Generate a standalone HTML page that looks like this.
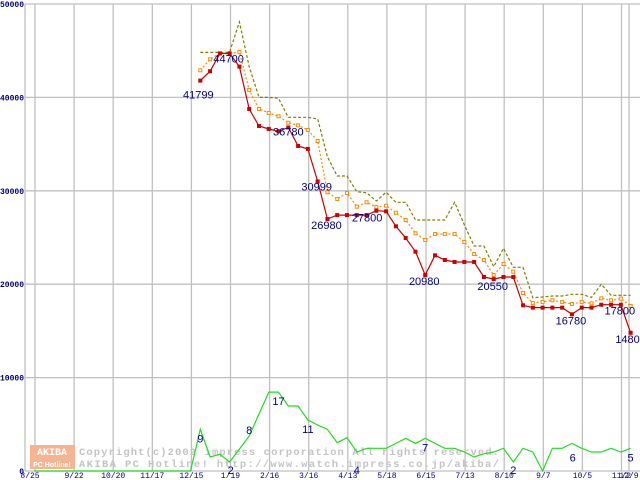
<!DOCTYPE html>
<html><head><meta charset="utf-8"><style>
html,body{margin:0;padding:0;background:#fff;}
svg{display:block;font-family:"Liberation Sans",sans-serif;}
</style></head><body>
<svg id="chart" width="640" height="480" viewBox="0 0 640 480" xmlns="http://www.w3.org/2000/svg">
<g id="grid"></g>
<g id="axes"></g>
<g id="watermark">
  <rect x="30" y="445" width="45" height="24" fill="#f6b592"/>
  <text x="52" y="455" font-size="10" font-weight="bold" fill="#fff" text-anchor="middle" font-family="Liberation Mono,monospace">AKIBA</text>
  <text x="52" y="467" font-size="7" font-weight="bold" fill="#fff" text-anchor="middle">PC Hotline!</text>
  <text x="79" y="455" font-size="10.5" font-weight="bold" fill="#c4c4c4" font-family="Liberation Mono,monospace" textLength="420">Copyright(c)2002 impress corporation All rights reserved.</text>
  <text x="79" y="467" font-size="10.5" font-weight="bold" fill="#c4c4c4" font-family="Liberation Mono,monospace" textLength="420">AKIBA PC Hotline!  http://www.watch.impress.co.jp/akiba/</text>
</g>
<g id="series"></g>
<g id="labels"></g>
</svg>
<script>
const xTickLabels = ["8/25","9/22","10/20","11/17","12/15","1/19","2/16","3/16","4/13","5/18","6/15","7/13","8/10","9/7","10/5","11/2","12/9"];
const yTicks = [0,10000,20000,30000,40000,50000];
const minPrice = [41799,42800,44700,44700,43300,38760,36940,36620,36370,36780,34800,34480,30999,26980,27400,27400,27400,27400,27870,27800,26200,24950,23480,20980,23090,22590,22380,22380,22380,20770,20550,20770,20770,17740,17490,17490,17490,17490,16780,17490,17490,17800,17800,17800,14800];
const avgPrice = [42900,44080,44720,44720,44860,40790,38760,38330,37980,37290,37010,36510,35330,29840,29120,29760,28300,28770,28270,28400,27650,26870,25450,24730,25370,25370,25370,24520,23230,22590,20980,22160,21340,19060,17990,18100,18280,18090,17880,18090,17950,18490,18280,18460,17670];
const maxPrice = [44820,44820,44820,44820,48070,43300,40000,40000,39900,37870,37870,37870,37690,33650,31580,31580,29900,29790,28910,29840,28770,28770,26870,26870,26870,26870,28770,26340,24090,24090,21870,23840,21810,21810,18550,18630,18740,18740,18920,18920,18590,19990,18810,18810,18810];
const shopCount = [0,0,0,0,0,0,0,0,0,0,0,0,0,0,0,0,0,4460,1500,1790,960,2350,3750,6100,8450,8450,6960,6960,5460,4920,4460,3030,3560,2030,2430,2430,2430,2960,3500,2960,3500,2960,2430,2430,2030,1500,1850,2030,2430,960,2430,2030,0,2430,2430,2960,2430,2030,2030,2430,2030,2430];
const priceLabels = [[0,"41799",-2,18],[3,"44700",-1,9],[9,"36780",0,8],[12,"30999",-1,9],[13,"26980",-1,10],[19,"27800",-19,10],[23,"20980",-1,10],[30,"20550",-1,11],[38,"16780",-1,10],[43,"17800",-1,10],[44,"14800",0,10]];
const countLabels = [[17,"9",0,7],[20,"2",1,6],[22,"8",0,-8],[25,"17",0,7],[28,"11",0,7],[33,"4",0,16],[40,"7",0,7],[49,"2",0,6],[56,"6",-9,7],[61,"5",0,7]];

const NS="http://www.w3.org/2000/svg";
function mk(t,a,p){const e=document.createElementNS(NS,t);for(const k in a)e.setAttribute(k,a[k]);p.appendChild(e);return e;}
const X0=200.3, WK=9.78;
function xAt(i){return X0+WK*i;}
function yAt(v){return 471-v*0.00934;}
const grid=document.getElementById('grid'),axes=document.getElementById('axes'),series=document.getElementById('series'),labels=document.getElementById('labels');

yTicks.forEach(v=>{
  const l=mk('line',{x1:25,x2:640,y1:yAt(v),y2:yAt(v),stroke:'#c0c0c0','stroke-width':1.3},grid);
  
  
  const t=mk('text',{x:24,y:yAt(v)+3,'font-size':8,'font-weight':'bold',fill:'#000080','text-anchor':'end','font-family':'Liberation Mono,monospace'},axes);
  t.textContent=String(v);
  
  
});
mk('line',{x1:25,x2:25,y1:4,y2:471,stroke:'#c0c0c0','stroke-width':1.3},grid);
xTickLabels.forEach((s,k)=>{
  const x = k<16 ? 35+39.1*k : 629;
  const l=mk('line',{x1:x,x2:x,y1:4,y2:471,stroke:'#c0c0c0','stroke-width':1.3},grid);
  
  
  const t=mk('text',{x:k==0?30:x,y:478,'font-size':8,fill:'#000080','text-anchor':'middle','font-family':'Liberation Mono,monospace'},axes);
  t.textContent=s;
  
  
});

function poly(arr,off,color,dash,w,name){
  const pts=arr.map((v,i)=>xAt(i+off).toFixed(1)+','+yAt(v).toFixed(1)).join(' ');
  const p=mk('polyline',{points:pts,fill:'none',stroke:color,'stroke-width':w},series);
  if(dash)p.setAttribute('stroke-dasharray',dash);
  
  
}
poly(shopCount,-17,'#22dd22',null,1.2,'count-line');
poly(maxPrice,0,'#808000','3,2',1.2,'max-price-line');
poly(avgPrice,0,'#ff8c00','2,2',1.2,'avg-price-line');
avgPrice.forEach((v,i)=>{
  const r=mk('rect',{x:xAt(i)-1.5,y:yAt(v)-1.5,width:3,height:3,fill:'#fff',stroke:'#ff8c00','stroke-width':1},series);
  
  
});
poly(minPrice,0,'#cc0000',null,1.2,'min-price-line');
minPrice.forEach((v,i)=>{
  const r=mk('rect',{x:xAt(i)-2,y:yAt(v)-2,width:4,height:4,fill:'#cc0000'},series);
  
  
});
priceLabels.forEach(([i,s,dx,dy])=>{
  const t=mk('text',{x:xAt(i)+dx,y:yAt(minPrice[i])+dy,'font-size':11,fill:'#000080','text-anchor':'middle'},labels);
  t.textContent=s;
  
  
});
countLabels.forEach(([i,s,dx,dy])=>{
  const t=mk('text',{x:xAt(i-17)+dx,y:yAt(shopCount[i])+dy+6,'font-size':11,fill:'#000080','text-anchor':'middle'},labels);
  t.textContent=s;
  
  
});
</script>
</body></html>
